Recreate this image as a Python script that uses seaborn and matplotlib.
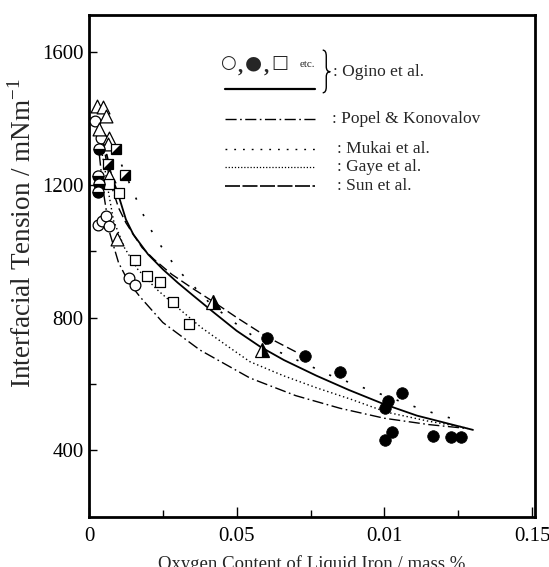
import numpy as np
import pandas as pd
import seaborn as sns
import matplotlib
matplotlib.use("Agg")
import matplotlib.pyplot as plt
from matplotlib.path import Path
from matplotlib.patches import PathPatch

# measured points (x = oxygen mass %, y = interfacial tension mN/m)
open_circle_x = [0.0020, 0.0041, 0.0030, 0.0044, 0.0058, 0.0068, 0.0137, 0.0156]
open_circle_y = [1392, 1339, 1077, 1089, 1104, 1074, 919, 897]

filled_circle_x = [0.0602, 0.0732, 0.0850, 0.1059, 0.1014, 0.1003, 0.1025, 0.1003, 0.1163, 0.1226, 0.1259]
filled_circle_y = [737, 684, 637, 572, 549, 527, 457, 432, 444, 441, 441]

half_circle_x = [0.0035, 0.0029, 0.0033, 0.0029]
half_circle_y = [1307, 1227, 1202, 1177]

open_tri_x = [0.0026, 0.0048, 0.0058, 0.0033, 0.0069, 0.0064, 0.0069, 0.0094]
open_tri_y = [1437, 1434, 1407, 1367, 1339, 1322, 1227, 1037]

half_tri_x = [0.0421, 0.0585]
half_tri_y = [847, 702]

open_sq_x = [0.0067, 0.0101, 0.0156, 0.0198, 0.0241, 0.0284, 0.0340]
open_sq_y = [1202, 1174, 974, 924, 907, 847, 779]

half_sq_x = [0.0091, 0.0065, 0.0123]
half_sq_y = [1307, 1262, 1230]

# model curves
ogino_x = [0.0060, 0.0075, 0.0099, 0.0125, 0.015, 0.020, 0.025, 0.030, 0.035, 0.042, 0.050, 0.058, 0.066, 0.077, 0.088, 0.0997, 0.111, 0.122, 0.130]
ogino_y = [1290, 1230, 1170, 1095, 1050, 990, 945, 905, 868, 817, 760, 712, 672, 625, 582, 540, 505, 480, 462]

sun_x = [0.0055, 0.0065, 0.008, 0.010, 0.0125, 0.015, 0.018, 0.022, 0.028, 0.035, 0.042, 0.050, 0.0602, 0.0704]
sun_y = [1290, 1240, 1185, 1130, 1085, 1050, 1010, 975, 930, 888, 848, 800, 742, 695]

popel_x = [0.0035, 0.0048, 0.0071, 0.010, 0.0135, 0.0173, 0.025, 0.0376, 0.0545, 0.070, 0.085, 0.100, 0.115, 0.1283]
popel_y = [1290, 1182, 1052, 965, 905, 862, 785, 702, 618, 565, 527, 497, 478, 466]

mukai_x = [0.011, 0.0145, 0.017, 0.0195, 0.0227, 0.0263, 0.030, 0.0346, 0.041, 0.0489, 0.0565, 0.0647, 0.0709, 0.0766, 0.0822, 0.0884, 0.0943, 0.1005, 0.1065, 0.1123, 0.1186, 0.1246]
mukai_y = [1260, 1187, 1137, 1087, 1037, 990, 944, 902, 842, 787, 738, 695, 670, 647, 624, 604, 584, 564, 544, 525, 507, 492]

gaye_x = [0.0045, 0.0055, 0.0065, 0.0083, 0.012, 0.0165, 0.0229, 0.030, 0.038, 0.0472, 0.0545, 0.0658, 0.0772, 0.0884, 0.1009, 0.115, 0.127]
gaye_y = [1290, 1240, 1182, 1092, 1010, 945, 885, 830, 770, 712, 667, 625, 588, 555, 515, 488, 470]

x_ticks = [0, 0.05, 0.10, 0.15]
x_tick_labels = ["0", "0.05", "0.01", "0.15"]
y_ticks = [400, 800, 1200, 1600]

sns.set_theme(style="ticks")
plt.rcParams['font.family'] = ['Liberation Serif', 'DejaVu Sans']
plt.rcParams['mathtext.fontset'] = 'custom'
plt.rcParams['mathtext.rm'] = 'Liberation Serif'

fig = plt.figure(figsize=(5.49, 5.67), dpi=100)
ax = fig.add_axes([0.1621, 0.0882, 0.8124, 0.8854])

curves = [
    (ogino_x, ogino_y, '-', 1.3),
    (sun_x, sun_y, (0, (7, 3)), 1.0),
    (popel_x, popel_y, (0, (8, 2.5, 1.2, 2.5)), 1.0),
    (mukai_x, mukai_y, (0, (1.3, 9.5)), 1.2),
    (gaye_x, gaye_y, (0, (1, 2)), 1.0),
]
for cx, cy, ls, lw in curves:
    df = pd.DataFrame({'x': cx, 'y': cy})
    sns.lineplot(data=df, x='x', y='y', sort=False, estimator=None, color='black',
                 linestyle=ls, linewidth=lw, ax=ax)

# plain markers
sns.scatterplot(x=open_circle_x, y=open_circle_y, marker='o', s=60, facecolor='white',
                edgecolor='black', linewidth=0.9, ax=ax, zorder=3)
sns.scatterplot(x=filled_circle_x, y=filled_circle_y, marker='o', s=70, color='black',
                edgecolor='black', linewidth=0.5, ax=ax, zorder=3)
sns.scatterplot(x=open_tri_x, y=open_tri_y, marker='^', s=85, facecolor='white',
                edgecolor='black', linewidth=0.9, ax=ax, zorder=3)
sns.scatterplot(x=open_sq_x, y=open_sq_y, marker='s', s=42, facecolor='white',
                edgecolor='black', linewidth=0.9, ax=ax, zorder=3)

# half filled markers
ax.plot(half_circle_x, half_circle_y, ls='none', marker='o', ms=8, fillstyle='bottom',
        markerfacecolor='black', markerfacecoloralt='white', markeredgecolor='black',
        mew=0.9, zorder=4)
ax.plot(half_tri_x, half_tri_y, ls='none', marker='^', ms=10, fillstyle='right',
        markerfacecolor='black', markerfacecoloralt='white', markeredgecolor='black',
        mew=0.9, zorder=4)
ax.plot(half_sq_x, half_sq_y, ls='none', marker='s', ms=7.5, markerfacecolor='white',
        markeredgecolor='black', mew=0.9, zorder=4)
ax.plot(half_sq_x, half_sq_y, ls='none', marker=[(1, 1), (1, -1), (-1, -1)], ms=7.5,
        markerfacecolor='black', markeredgecolor='black', mew=0.3, zorder=5)

ax.set_xlim(0, 0.151)
ax.set_ylim(200, 1710)
ax.set_xticks(x_ticks)
ax.set_xticklabels(x_tick_labels)
ax.set_xticks([0.025, 0.075, 0.125], minor=True)
ax.set_yticks(y_ticks)
ax.set_yticks([600, 1000, 1400], minor=True)
ax.tick_params(axis='both', which='both', direction='in', colors='black', labelsize=15)
ax.tick_params(axis='x', which='major', length=7, width=1, pad=7)
ax.tick_params(axis='x', which='minor', length=5, width=1)
ax.tick_params(axis='y', which='major', length=6, width=1, pad=4)
ax.tick_params(axis='y', which='minor', length=5, width=1)

for sp in ax.spines.values():
    sp.set_linewidth(2.0)
    sp.set_color('black')

ax.set_xlabel('Oxygen Content of Liquid Iron / mass %', fontsize=13.5, labelpad=7)
ax.set_ylabel(r'Interfacial Tension / mNm$^{\mathregular{-1}}$', fontsize=19.5)
ax.yaxis.set_label_coords(-0.118, 0.566)

# hand drawn legend
tr = ax.transAxes
sym_y = 0.904
ax.text(0.312, sym_y, '○', transform=tr, fontsize=13, ha='center', va='center',
        family=['DejaVu Sans'])
ax.text(0.339, sym_y - 0.006, ',', transform=tr, fontsize=15, ha='center', va='center',
        fontweight='bold')
ax.text(0.368, sym_y, '●', transform=tr, fontsize=14, ha='center', va='center',
        family=['DejaVu Sans'])
ax.text(0.397, sym_y - 0.006, ',', transform=tr, fontsize=15, ha='center', va='center',
        fontweight='bold')
ax.text(0.428, sym_y, '□', transform=tr, fontsize=13, ha='center', va='center',
        family=['DejaVu Sans'])
ax.text(0.489, sym_y - 0.002, 'etc.', transform=tr, fontsize=8, ha='center', va='center')

# thin curly brace
bx0, bx1, bx2 = 0.524, 0.532, 0.541
by_top, by_mid, by_bot = 0.930, 0.887, 0.845
brace_verts = [
    (bx0, by_top), (bx1, by_top), (bx1, by_top - 0.012),
    (bx1, by_mid + 0.010),
    (bx1, by_mid), (bx2, by_mid),
    (bx1, by_mid), (bx1, by_mid - 0.010),
    (bx1, by_bot + 0.012),
    (bx1, by_bot), (bx0, by_bot),
]
brace_codes = [Path.MOVETO, Path.CURVE3, Path.CURVE3, Path.LINETO,
               Path.CURVE3, Path.CURVE3, Path.CURVE3, Path.CURVE3,
               Path.LINETO, Path.CURVE3, Path.CURVE3]
ax.add_patch(PathPatch(Path(brace_verts, brace_codes), transform=tr, fill=False,
                       edgecolor='black', linewidth=1.0))
ax.text(0.547, 0.886, ': Ogino et al.', transform=tr, fontsize=12.5, ha='left', va='center')

legend_rows = [
    (0.853, '-', 1.6, None),
    (0.792, (0, (8, 2.5, 1.2, 2.5)), 1.0, ': Popel & Konovalov'),
    (0.734, (0, (1.3, 5)), 1.0, ': Mukai et al.'),
    (0.698, (0, (1, 1.5)), 0.9, ': Gaye et al.'),
    (0.660, (0, (9, 1.5)), 1.2, ': Sun et al.'),
]
for i, (ry, ls, lw, label) in enumerate(legend_rows):
    ax.plot([0.305, 0.507], [ry, ry], transform=tr, color='black', linestyle=ls, linewidth=lw)
    if label:
        tx = 0.544 if i == 1 else 0.555
        ax.text(tx, ry, label, transform=tr, fontsize=12.5, ha='left', va='center')

fig.savefig('out.png', dpi=100)
